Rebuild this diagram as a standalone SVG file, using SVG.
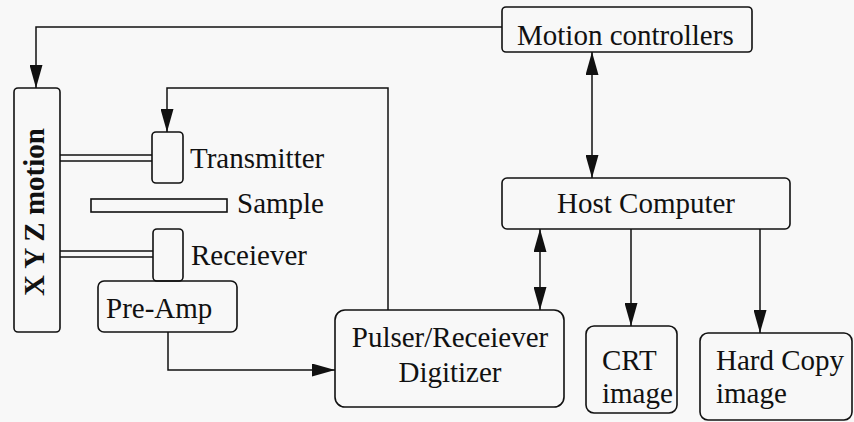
<svg xmlns="http://www.w3.org/2000/svg" width="854" height="422" viewBox="0 0 854 422">
<style>
.box{fill:none;stroke:#111;stroke-width:1.6}
.ln{fill:none;stroke:#111;stroke-width:1.5}
text{font-family:"Liberation Serif","Times New Roman",serif;font-size:29px;fill:#111}
.b{font-weight:bold}
</style>
<defs>
<marker id="ah" viewBox="0 0 23 13" refX="23" refY="6.5" markerWidth="23" markerHeight="13" markerUnits="userSpaceOnUse" orient="auto-start-reverse">
<path d="M0,0 L23,6.5 L0,13 z" fill="#111"/>
</marker>
</defs>
<rect width="854" height="422" fill="#f8f8f8"/>
<g id="xyz">
<rect class="box" x="14" y="88" width="46" height="244" rx="4"/>
<text class="b" transform="translate(44,212) rotate(-90)" text-anchor="middle">X Y Z motion</text>
</g>
<g id="motion-controllers">
<rect class="box" x="502" y="7" width="250" height="45" rx="4"/>
<text x="517" y="45">Motion controllers</text>
</g>
<g id="host">
<rect class="box" x="502" y="178" width="288" height="51" rx="5"/>
<text x="557" y="213">Host Computer</text>
</g>
<g id="transmitter">
<rect class="box" x="152" y="132" width="31" height="51" rx="4"/>
<text x="190" y="168">Transmitter</text>
</g>
<g id="sample">
<rect class="box" x="91" y="199" width="136" height="13"/>
<text x="237" y="213">Sample</text>
</g>
<g id="receiver">
<rect class="box" x="153" y="229" width="30" height="52" rx="4"/>
<text x="191" y="265">Receiever</text>
</g>
<g id="preamp">
<rect class="box" x="98" y="281" width="139" height="51" rx="6"/>
<text x="106" y="318">Pre-Amp</text>
</g>
<g id="pulser">
<rect class="box" x="335" y="310" width="229" height="97" rx="10"/>
<text x="450" y="347" text-anchor="middle">Pulser/Receiever</text>
<text x="450" y="382" text-anchor="middle">Digitizer</text>
</g>
<g id="crt">
<rect class="box" x="586" y="326" width="91" height="87" rx="8"/>
<text x="602" y="370">CRT</text>
<text x="602" y="403">image</text>
</g>
<g id="hardcopy">
<rect class="box" x="700" y="333" width="152" height="87" rx="8"/>
<text x="716" y="370">Hard Copy</text>
<text x="716" y="403">image</text>
</g>
<g id="connectors">
<path class="ln" d="M502,27 H36 V88" marker-end="url(#ah)"/>
<path class="ln" d="M592,52 V178" marker-start="url(#ah)" marker-end="url(#ah)"/>
<path class="ln" d="M540,229 V310" marker-start="url(#ah)" marker-end="url(#ah)"/>
<path class="ln" d="M631,229 V326" marker-end="url(#ah)"/>
<path class="ln" d="M760,229 V333" marker-end="url(#ah)"/>
<path class="ln" d="M388,310 V88 H167 V132" marker-end="url(#ah)"/>
<path class="ln" d="M168,332 V370 H335" marker-end="url(#ah)"/>
<path class="ln" d="M60,155 H152 M60,161 H152"/>
<path class="ln" d="M60,251 H153 M60,257 H153"/>
</g>
</svg>
